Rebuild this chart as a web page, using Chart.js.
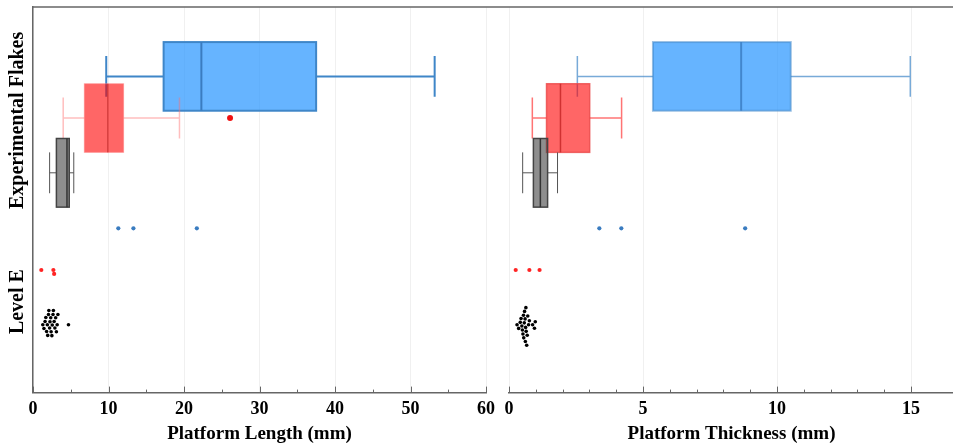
<!DOCTYPE html>
<html>
<head>
<meta charset="utf-8">
<script src="https://cdn.jsdelivr.net/npm/chart.js@4/dist/chart.umd.min.js"></script>
<style>
    body { margin: 0; background: #fff; overflow: hidden; }
    #wrap { position: relative; width: 953px; height: 448px; overflow: hidden; }
    #wrap canvas { position: absolute; top: 0; }
    #chartLength { left: 0; }
    #chartThickness { left: 497px; }
</style>
</head>
<body>
<div id="wrap">
    <canvas id="chartLength" width="497" height="448"></canvas>
    <canvas id="chartThickness" width="461" height="448"></canvas>
</div>
<script>
const categories = ["Experimental Flakes", "Level E"];
const groups = ["blue", "red", "grey"];

// Platform Length (mm), experimental flakes: box stats per group
const lengthLow = [9.7, 4.0, 2.2];
const lengthQ1 = [17.3, 6.8, 3.1];
const lengthMedian = [22.3, 9.9, 4.5];
const lengthQ3 = [37.5, 12.0, 4.8];
const lengthHigh = [53.2, 19.4, 5.4];
const lengthOutliers = [[], [26.1], []];
// Platform Length (mm), Level E points
const lengthLevelE = [
    [11.3, 13.3, 21.7],
    [1.1, 2.7, 2.8],
    [1.3, 1.45, 1.6, 1.7, 1.8, 1.9, 1.95, 2.05, 2.1, 2.2, 2.25, 2.35, 2.4, 2.5, 2.55, 2.65, 2.7, 2.8, 2.9, 3.0, 3.1, 3.2, 3.3, 4.7],
];
const lengthTickLabels = [0, 10, 20, 30, 40, 50, 60];

// Platform Thickness (mm)
const thicknessLow = [2.55, 0.87, 0.51];
const thicknessQ1 = [5.37, 1.40, 0.91];
const thicknessMedian = [8.66, 1.92, 1.17];
const thicknessQ3 = [10.51, 3.01, 1.44];
const thicknessHigh = [14.97, 4.2, 1.81];
const thicknessOutliers = [[], [], []];
const thicknessLevelE = [
    [3.37, 4.19, 8.81],
    [0.25, 0.76, 1.14],
    [0.3, 0.36, 0.42, 0.45, 0.48, 0.5, 0.52, 0.54, 0.55, 0.57, 0.58, 0.6, 0.61, 0.62, 0.63, 0.64, 0.66, 0.68, 0.7, 0.73, 0.76, 0.88, 0.95, 0.98],
];
const thicknessTickLabels = [0, 5, 10, 15];

// layout on the hidden y scale (0 top .. 10 bottom)
const catPos = [1.8, 5.74];
const groupOffset = [0, 1.08, 2.5];
const labelPos = [2.94, 7.64];
const boxHalf = 0.89;
const capHalf = 0.53;
const swarmGap = 4;

const axisColor = "#666";
const dotColors = ["#3a7cc0", "#ff2424", "#000000"];

Chart.defaults.font.family = "'Liberation Serif', 'Times New Roman', serif";
Chart.defaults.font.weight = "bold";
Chart.defaults.color = "#000";

const lengthStyles = [
    { whisker: "#3f86c8", whiskerWidth: 2, fill: "rgba(30,144,255,0.68)", border: "#3f86c8", borderWidth: 2, median: "#3a7cc0", medianWidth: 2 },
    { whisker: "rgba(255,110,110,0.45)", whiskerWidth: 1.5, fill: "rgba(255,0,0,0.6)", border: "rgba(255,120,120,0.5)", borderWidth: 1, median: "rgba(190,40,40,0.6)", medianWidth: 1.5 },
    { whisker: "#555", whiskerWidth: 1, fill: "rgba(60,60,60,0.58)", border: "#444", borderWidth: 1.5, median: "#333", medianWidth: 1.5 },
];
const thicknessStyles = [
    { whisker: "rgba(63,134,200,0.7)", whiskerWidth: 1.5, fill: "rgba(30,144,255,0.68)", border: "rgba(63,134,200,0.55)", borderWidth: 2, median: "rgba(58,124,192,0.8)", medianWidth: 2 },
    { whisker: "rgba(255,70,70,0.75)", whiskerWidth: 1.5, fill: "rgba(255,0,0,0.6)", border: "rgba(235,70,70,0.8)", borderWidth: 1.5, median: "rgba(200,40,40,0.85)", medianWidth: 1.5 },
    { whisker: "#555", whiskerWidth: 1, fill: "rgba(60,60,60,0.58)", border: "#444", borderWidth: 1.5, median: "#333", medianWidth: 1.5 },
];

function swarm(xs, d) {
    const order = xs.map((v, i) => i).sort((a, b) => xs[a] - xs[b]);
    const placed = [];
    const dy = new Array(xs.length);
    order.forEach((i) => {
        const x = xs[i];
        const near = placed.filter((p) => Math.abs(p.x - x) < d);
        const cands = [0];
        near.forEach((p) => {
            const h = Math.sqrt(d * d - (p.x - x) * (p.x - x));
            cands.push(p.y + h, p.y - h);
        });
        cands.sort((a, b) => Math.abs(a) - Math.abs(b));
        const y = cands.find((c) => near.every((p) => (p.x - x) ** 2 + (p.y - c) ** 2 >= d * d - 0.01));
        placed.push({ x, y });
        dy[i] = y;
    });
    return dy;
}

function boxPlugin(stats, styles) {
    return {
        id: "boxes",
        beforeDatasetsDraw(chart) {
            const { ctx } = chart;
            const { x, y } = chart.scales;
            const px = (v) => x.getPixelForValue(v);
            groups.forEach((g, i) => {
                const c = catPos[0] + groupOffset[i];
                const cy = y.getPixelForValue(c);
                const bh = Math.abs(y.getPixelForValue(c + boxHalf) - cy);
                const ch = Math.abs(y.getPixelForValue(c + capHalf) - cy);
                const s = styles[i];
                ctx.save();
                ctx.strokeStyle = s.whisker;
                ctx.lineWidth = s.whiskerWidth;
                ctx.beginPath();
                ctx.moveTo(px(stats.low[i]), cy);
                ctx.lineTo(px(stats.q1[i]), cy);
                ctx.moveTo(px(stats.q3[i]), cy);
                ctx.lineTo(px(stats.high[i]), cy);
                ctx.moveTo(px(stats.low[i]), cy - ch);
                ctx.lineTo(px(stats.low[i]), cy + ch);
                ctx.moveTo(px(stats.high[i]), cy - ch);
                ctx.lineTo(px(stats.high[i]), cy + ch);
                ctx.stroke();
                const x0 = px(stats.q1[i]);
                const x1 = px(stats.q3[i]);
                ctx.fillStyle = s.fill;
                ctx.fillRect(x0, cy - bh, x1 - x0, 2 * bh);
                ctx.strokeStyle = s.border;
                ctx.lineWidth = s.borderWidth;
                ctx.strokeRect(x0, cy - bh, x1 - x0, 2 * bh);
                ctx.strokeStyle = s.median;
                ctx.lineWidth = s.medianWidth;
                ctx.beginPath();
                ctx.moveTo(px(stats.median[i]), cy - bh);
                ctx.lineTo(px(stats.median[i]), cy + bh);
                ctx.stroke();
                ctx.restore();
            });
        },
    };
}

function framePlugin(topFrom, showLabels) {
    return {
        id: "frame",
        afterDraw(chart) {
            const { ctx, chartArea } = chart;
            const x = chart.scales.x;
            ctx.save();
            ctx.strokeStyle = axisColor;
            ctx.lineWidth = 1;
            x.ticks.forEach((t) => {
                const p = Math.round(x.getPixelForValue(t.value)) + 0.5;
                const len = t.label !== "" ? 6 : 3;
                ctx.beginPath();
                ctx.moveTo(p, chartArea.bottom);
                ctx.lineTo(p, chartArea.bottom - len);
                ctx.stroke();
            });
            ctx.lineWidth = 1.5;
            ctx.beginPath();
            ctx.moveTo(topFrom === null ? chartArea.left : topFrom, chartArea.top);
            ctx.lineTo(chart.width, chartArea.top);
            ctx.stroke();
            if (showLabels) {
                const y = chart.scales.y;
                ctx.fillStyle = "#000";
                ctx.font = "bold 20px 'Liberation Serif', serif";
                ctx.textAlign = "center";
                ctx.textBaseline = "middle";
                categories.forEach((cat, i) => {
                    ctx.save();
                    ctx.translate(18, y.getPixelForValue(labelPos[i]));
                    ctx.rotate(-Math.PI / 2);
                    ctx.fillText(cat, 0, 0);
                    ctx.restore();
                });
            }
            ctx.restore();
        },
    };
}

function makePanel(canvasId, p) {
    const datasets = [];
    p.levelE.forEach((vals, i) => {
        datasets.push({
            label: groups[i] + " " + categories[1],
            data: vals.map((v) => ({ x: v, y: catPos[1] + groupOffset[i] })),
            backgroundColor: dotColors[i],
            borderWidth: 0,
            pointRadius: i === 2 ? 1.8 : 2.1,
        });
    });
    p.outliers.forEach((vals, i) => {
        datasets.push({
            label: groups[i] + " outliers",
            data: vals.map((v) => ({ x: v, y: catPos[0] + groupOffset[i] })),
            backgroundColor: i === 1 ? "#f01010" : dotColors[i],
            borderWidth: 0,
            pointRadius: 3,
        });
    });

    const yScale = {
        type: "linear",
        min: 0,
        max: 10,
        reverse: true,
        display: p.showY,
        ticks: { display: false },
        grid: { display: false },
        border: { display: true, color: axisColor, width: 1.5 },
    };
    if (p.showY) {
        yScale.afterFit = (scale) => { scale.width = 33; };
    }

    const chart = new Chart(document.getElementById(canvasId), {
        type: "scatter",
        data: { datasets },
        options: {
            responsive: false,
            animation: false,
            events: [],
            layout: { padding: p.padding },
            plugins: { legend: { display: false }, tooltip: { enabled: false } },
            scales: {
                x: {
                    type: "linear",
                    min: 0,
                    max: p.max,
                    afterBuildTicks: (scale) => {
                        scale.ticks = scale.ticks.filter((t) => Math.abs(t.value / p.step - Math.round(t.value / p.step)) < 1e-6);
                    },
                    ticks: {
                        stepSize: p.step,
                        autoSkip: false,
                        maxRotation: 0,
                        padding: 0,
                        font: { size: 18, weight: "bold" },
                        callback: (v) => (p.tickLabels.includes(v) ? String(v) : ""),
                    },
                    grid: {
                        drawTicks: true,
                        tickLength: 6,
                        tickColor: "rgba(0,0,0,0)",
                        color: (ctx) => (ctx.tick && p.tickLabels.includes(ctx.tick.value) ? "rgba(0,0,0,0.06)" : "rgba(0,0,0,0)"),
                    },
                    border: { display: true, color: axisColor, width: 1.5 },
                    title: {
                        display: true,
                        text: p.title,
                        font: { size: 19, weight: "bold" },
                        padding: { top: 2, bottom: 0 },
                    },
                },
                y: yScale,
            },
        },
        plugins: [boxPlugin(p.stats, p.styles), framePlugin(p.topFrom, p.showY)],
    });

    // arrange the Level E points as a beeswarm in pixel space
    const { x, y } = chart.scales;
    p.levelE.forEach((vals, i) => {
        const cy = y.getPixelForValue(catPos[1] + groupOffset[i]);
        const dy = swarm(vals.map((v) => x.getPixelForValue(v)), swarmGap);
        chart.data.datasets[i].data = vals.map((v, k) => ({ x: v, y: y.getValueForPixel(cy + dy[k]) }));
    });
    chart.update("none");
    return chart;
}

makePanel("chartLength", {
    max: 60,
    step: 5,
    tickLabels: lengthTickLabels,
    title: "Platform Length (mm)",
    padding: { top: 7, right: 11, bottom: 3, left: 0 },
    showY: true,
    topFrom: null,
    stats: { low: lengthLow, q1: lengthQ1, median: lengthMedian, q3: lengthQ3, high: lengthHigh },
    styles: lengthStyles,
    outliers: lengthOutliers,
    levelE: lengthLevelE,
});

makePanel("chartThickness", {
    max: 16.6,
    step: 1,
    tickLabels: thicknessTickLabels,
    title: "Platform Thickness (mm)",
    padding: { top: 7, right: 0, bottom: 3, left: 12 },
    showY: false,
    topFrom: 0,
    stats: { low: thicknessLow, q1: thicknessQ1, median: thicknessMedian, q3: thicknessQ3, high: thicknessHigh },
    styles: thicknessStyles,
    outliers: thicknessOutliers,
    levelE: thicknessLevelE,
});
</script>
</body>
</html>
